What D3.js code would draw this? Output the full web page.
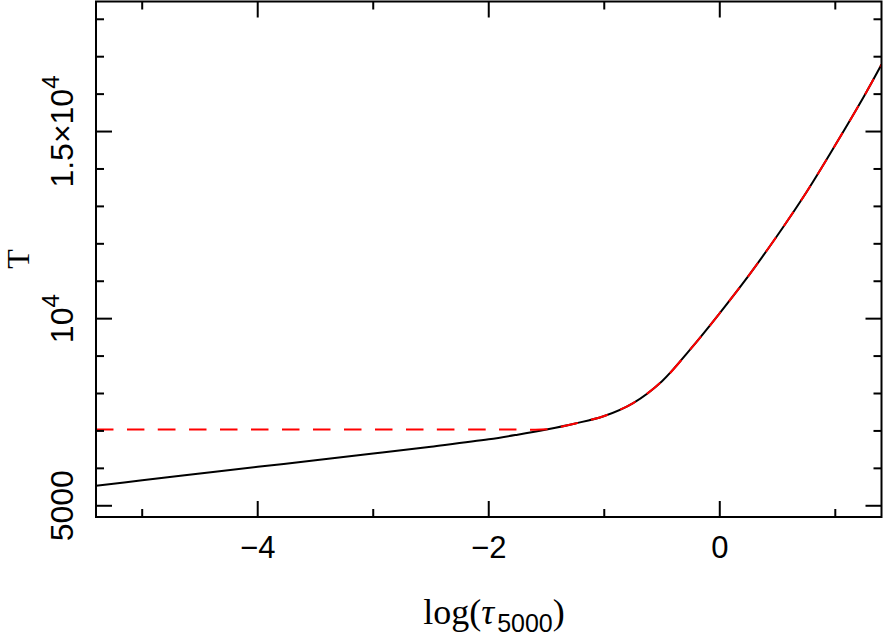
<!DOCTYPE html>
<html><head><meta charset="utf-8">
<script src="https://cdn.jsdelivr.net/npm/d3@7"></script>
<style>body{margin:0;background:#fff}svg{display:block}</style>
</head><body>
<svg id="c" width="884" height="638"></svg>
<script>
// log(tau_5000) grid and temperatures
const logTau = [-5.4, -5.0, -4.5, -4.0, -3.5, -3.0, -2.5, -2.0, -1.75, -1.5, -1.25, -1.0, -0.75, -0.5, -0.25, 0.0, 0.25, 0.5, 0.75, 1.0, 1.25, 1.4];
const tempModel = [5534, 5680, 5860, 6040, 6215, 6395, 6580, 6775, 6900, 7040, 7200, 7400, 7745, 8330, 9200, 10150, 11150, 12230, 13380, 14640, 15950, 16790];
const tempRef   = [7040, 7040, 7040, 7040, 7040, 7040, 7040, 7040, 7040, 7045, 7200, 7400, 7745, 8330, 9200, 10150, 11150, 12230, 13380, 14640, 15950, 16790];
const xMajor = [-4, -2, 0];
const xMinor = [-5, -3, -1, 1];
const yMajor = [5000, 10000, 15000];
const yMinor = [6000, 7000, 8000, 9000, 11000, 12000, 13000, 14000, 16000, 17000, 18000];

const svg = d3.select("#c");
const L = 96, R = 881.5, T = 1.5, B = 517;
const x = d3.scaleLinear().domain([-5.4, 1.4]).range([L, R]);
const y = d3.scaleLinear().domain([4700, 18475]).range([B, T]);

const line = d3.line().x((d,i)=>x(logTau[i])).y(d=>y(d)).curve(d3.curveCatmullRom.alpha(0.5));
svg.append("clipPath").attr("id","pc").append("rect")
  .attr("x",L).attr("y",T).attr("width",R-L).attr("height",B-T);
const g = svg.append("g").attr("clip-path","url(#pc)");
g.append("path").datum(tempModel).attr("d",line).attr("fill","none")
  .attr("stroke","#000").attr("stroke-width",2);
g.append("path").datum(tempRef).attr("d",line).attr("fill","none")
  .attr("stroke","#ff0000").attr("stroke-width",2).attr("stroke-dasharray","17.5,13.5");

// frame
svg.append("rect").attr("x",L).attr("y",T).attr("width",R-L).attr("height",B-T)
  .attr("fill","none").attr("stroke","#000").attr("stroke-width",2);

const tk = svg.append("g").attr("stroke","#000").attr("stroke-width",2);
function xt(vals,len){
  vals.forEach(v=>{
    tk.append("line").attr("x1",x(v)).attr("x2",x(v)).attr("y1",B).attr("y2",B-len);
    tk.append("line").attr("x1",x(v)).attr("x2",x(v)).attr("y1",T).attr("y2",T+len);
  });
}
function yt(vals,len){
  vals.forEach(v=>{
    tk.append("line").attr("y1",y(v)).attr("y2",y(v)).attr("x1",L).attr("x2",L+len);
    tk.append("line").attr("y1",y(v)).attr("y2",y(v)).attr("x1",R).attr("x2",R-len);
  });
}
xt(xMajor,16); xt(xMinor,8); yt(yMajor,16); yt(yMinor,8);

const font = "'Liberation Sans', Arial, sans-serif";
const serif = "'Liberation Serif', 'DejaVu Serif', serif";
const xLabels = ["\u22124", "\u22122", "0"];
xMajor.forEach((v,i)=>{
  svg.append("text").attr("x",x(v)).attr("y",558).attr("text-anchor","middle")
    .attr("font-family",font).attr("font-size",31).text(xLabels[i]);
});
// y labels (rotated)
const yLabels = [["5000",""],["10","4"],["1.5\u00d710","4"]];
yMajor.forEach((v,i)=>{
  const t = svg.append("text").attr("transform",`translate(73,${y(v)}) rotate(-90)`)
    .attr("text-anchor","middle").attr("font-family",font).attr("font-size",32);
  t.append("tspan").text(yLabels[i][0]);
  if (yLabels[i][1]) t.append("tspan").attr("dy",-14).attr("font-size",24).text(yLabels[i][1]);
});
// axis titles
const xt2 = svg.append("text").attr("x",494).attr("y",624).attr("text-anchor","middle")
  .attr("font-family",serif).attr("font-size",36);
xt2.append("tspan").text("log(");
xt2.append("tspan").attr("font-style","italic").text("\u03c4");
xt2.append("tspan").attr("dx",3).attr("dy",8).attr("font-size",25).attr("font-family",font).text("5000");
xt2.append("tspan").attr("dy",-8).text(")");
svg.append("text").attr("transform","translate(29,259) rotate(-90)").attr("text-anchor","middle")
  .attr("font-family",serif).attr("font-size",32).text("T");
</script>
</body></html>
